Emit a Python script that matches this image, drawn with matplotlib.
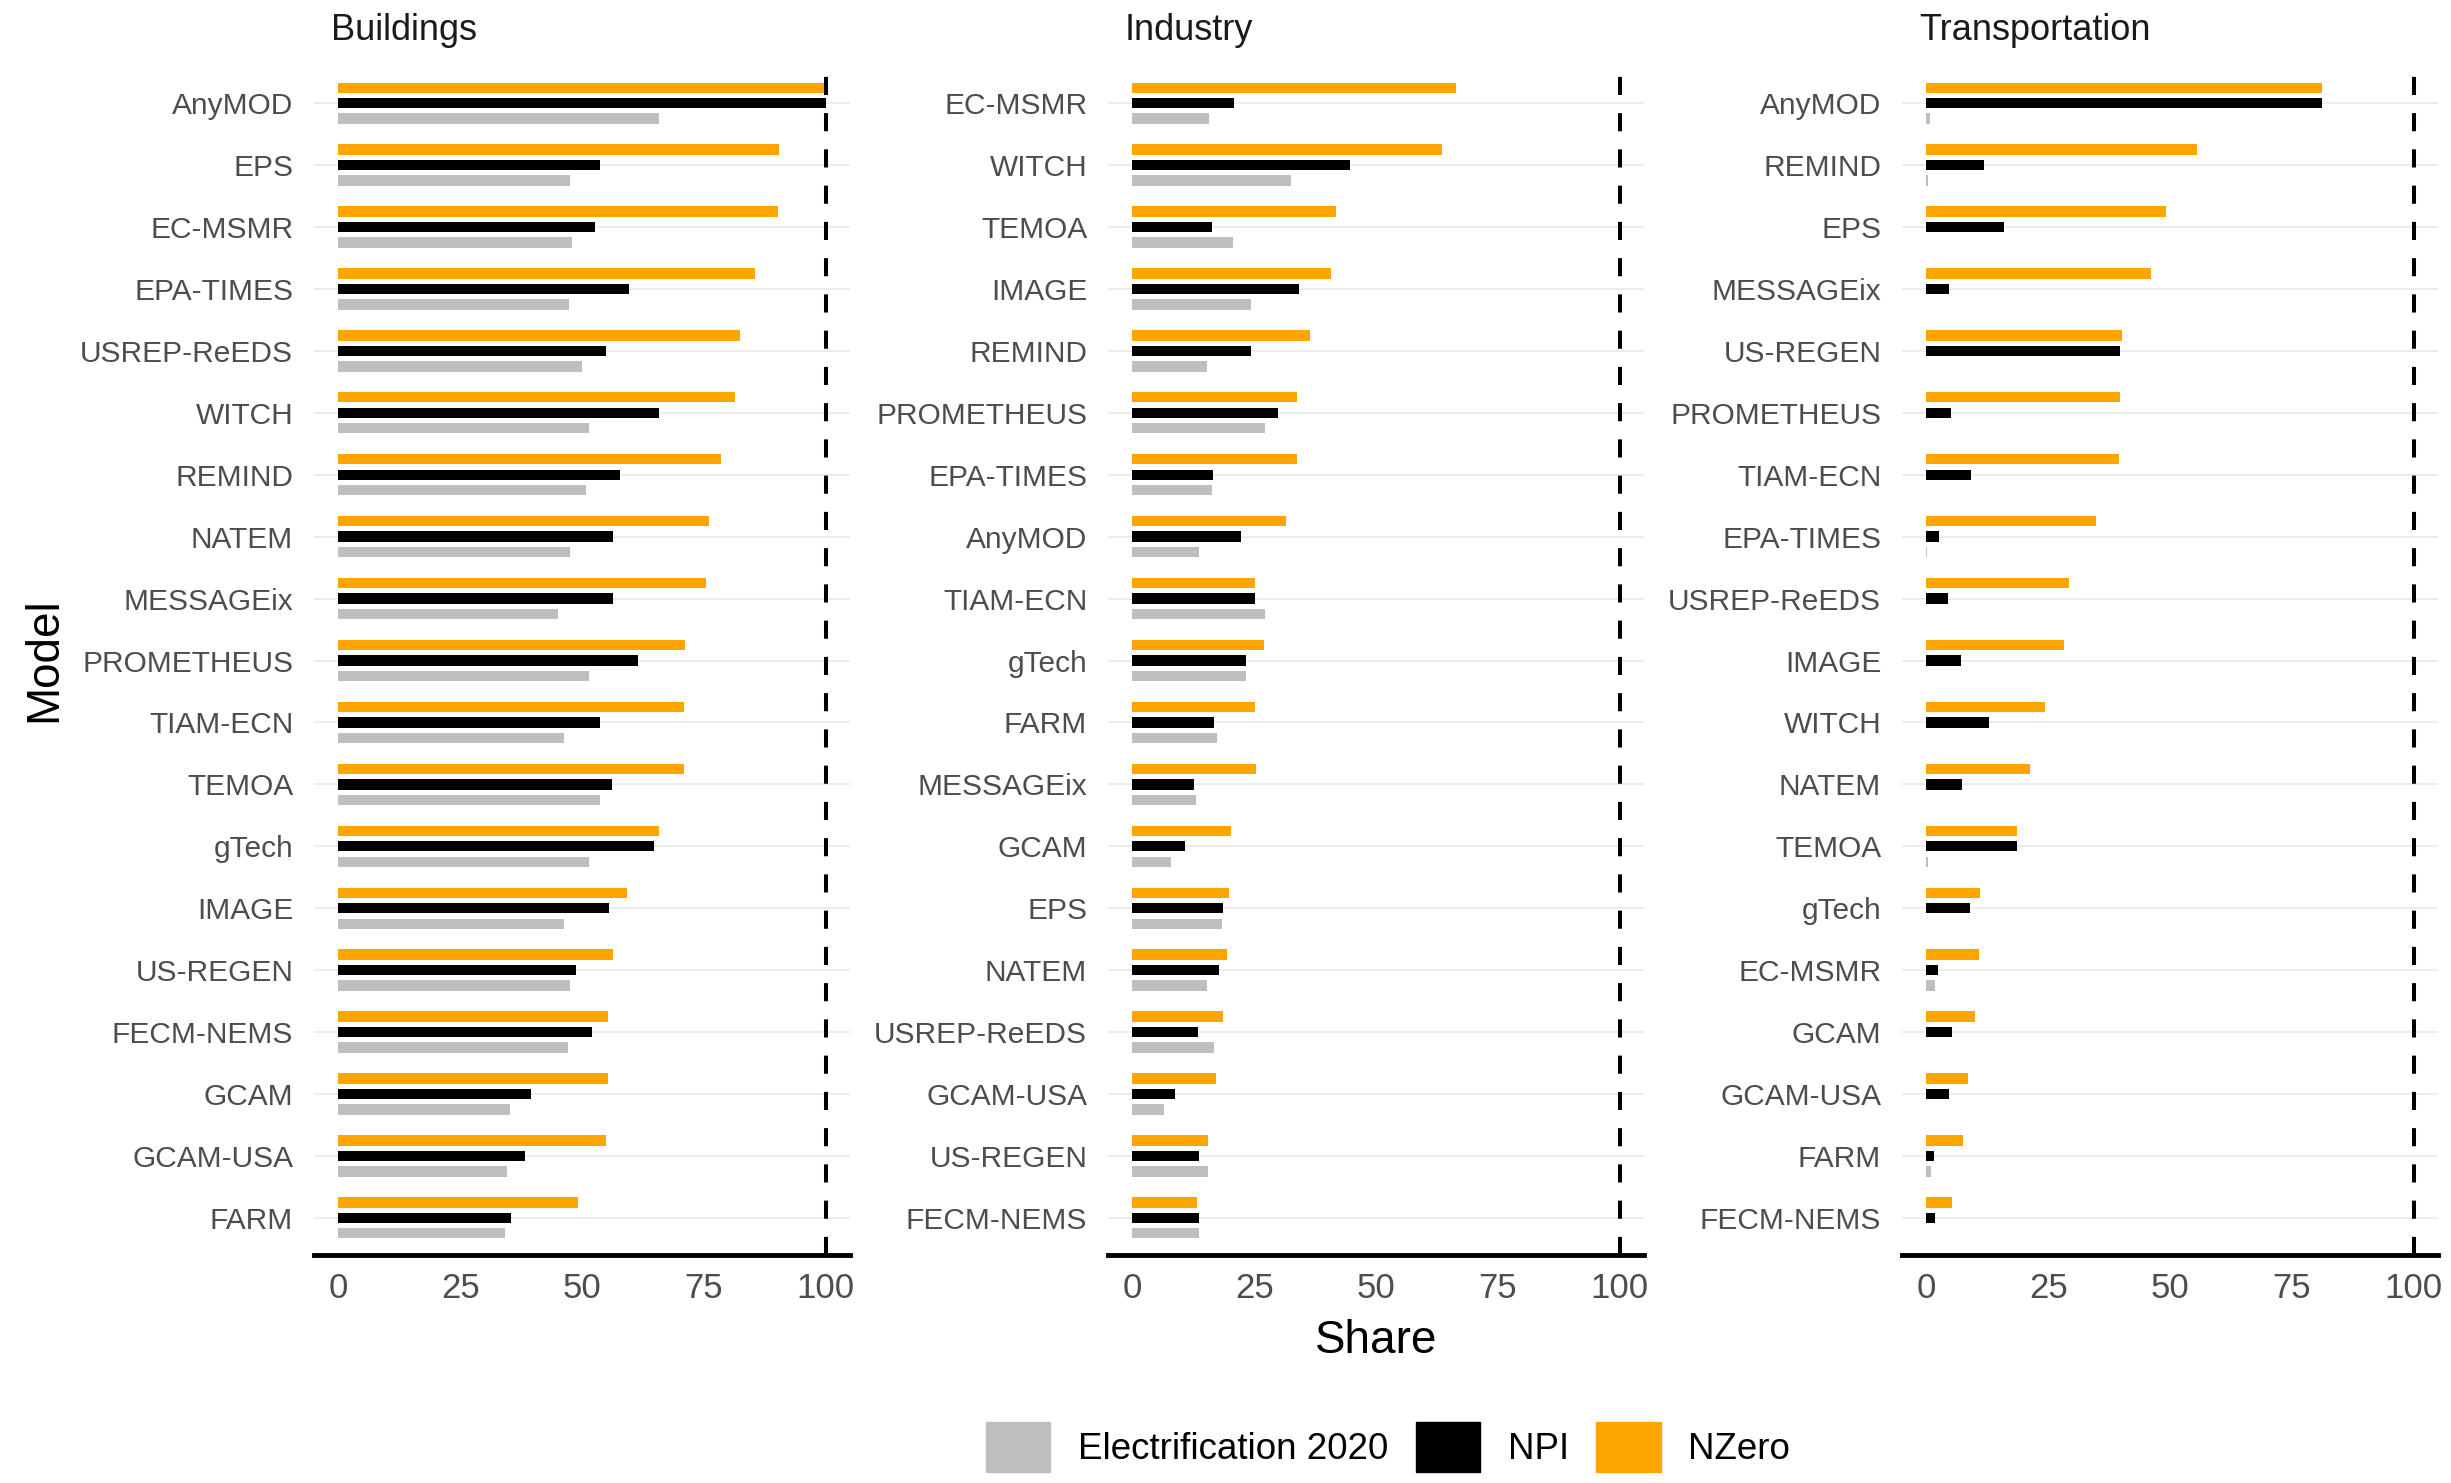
import matplotlib.pyplot as plt
from matplotlib.patches import Patch
import numpy as np

plt.rcParams['font.family'] = ['Liberation Sans', 'DejaVu Sans']

# Buildings
build_models = ["AnyMOD", "EPS", "EC-MSMR", "EPA-TIMES", "USREP-ReEDS", "WITCH", "REMIND",
                "NATEM", "MESSAGEix", "PROMETHEUS", "TIAM-ECN", "TEMOA", "gTech", "IMAGE",
                "US-REGEN", "FECM-NEMS", "GCAM", "GCAM-USA", "FARM"]
build_nzero = [100, 90.5, 90.3, 85.6, 82.5, 81.3, 78.6, 76.1, 75.5, 71.1, 71, 71, 65.7, 59.2,
               56.4, 55.3, 55.3, 55, 49.2]
build_npi = [100, 53.6, 52.6, 59.6, 55, 65.9, 57.8, 56.4, 56.4, 61.4, 53.7, 56.2, 64.8, 55.6,
             48.7, 52, 39.6, 38.4, 35.5]
build_e2020 = [65.7, 47.6, 47.9, 47.3, 50.1, 51.4, 50.8, 47.6, 45.1, 51.4, 46.4, 53.7, 51.4,
               46.4, 47.6, 47.2, 35.2, 34.6, 34.2]

# Industry
ind_models = ["EC-MSMR", "WITCH", "TEMOA", "IMAGE", "REMIND", "PROMETHEUS", "EPA-TIMES",
              "AnyMOD", "TIAM-ECN", "gTech", "FARM", "MESSAGEix", "GCAM", "EPS", "NATEM",
              "USREP-ReEDS", "GCAM-USA", "US-REGEN", "FECM-NEMS"]
ind_nzero = [66.5, 63.5, 41.7, 40.8, 36.4, 33.8, 33.8, 31.5, 25.2, 27, 25.1, 25.4, 20.2, 19.9,
             19.4, 18.6, 17.2, 15.5, 13.2]
ind_npi = [20.9, 44.6, 16.3, 34.3, 24.4, 29.8, 16.6, 22.3, 25.1, 23.4, 16.8, 12.7, 10.8, 18.6,
           17.7, 13.4, 8.8, 13.7, 13.7]
ind_e2020 = [15.8, 32.5, 20.7, 24.4, 15.3, 27.3, 16.3, 13.7, 27.2, 23.4, 17.3, 13.1, 8, 18.3,
             15.3, 16.8, 6.4, 15.5, 13.7]

# Transportation
trans_models = ["AnyMOD", "REMIND", "EPS", "MESSAGEix", "US-REGEN", "PROMETHEUS", "TIAM-ECN",
                "EPA-TIMES", "USREP-ReEDS", "IMAGE", "WITCH", "NATEM", "TEMOA", "gTech",
                "EC-MSMR", "GCAM", "GCAM-USA", "FARM", "FECM-NEMS"]
trans_nzero = [81.2, 55.5, 49.2, 46.1, 40.2, 39.8, 39.5, 34.8, 29.3, 28.3, 24.3, 21.2, 18.5,
               11, 10.9, 9.9, 8.6, 7.5, 5.2]
trans_npi = [81.2, 11.9, 15.9, 4.6, 39.7, 5.1, 9.1, 2.5, 4.4, 7.1, 12.8, 7.3, 18.5, 9, 2.3,
             5.3, 4.6, 1.5, 1.7]
trans_e2020 = [0.7, 0.4, 0, 0, 0, 0, 0, 0.2, 0, 0, 0, 0, 0.3, 0, 1.8, 0, 0, 1, 0]

panels = [
    ("Buildings", build_models, build_nzero, build_npi, build_e2020),
    ("Industry", ind_models, ind_nzero, ind_npi, ind_e2020),
    ("Transportation", trans_models, trans_nzero, trans_npi, trans_e2020),
]

col_e2020 = "#bebebe"
col_npi = "#000000"
col_nzero = "#ffa500"

W, H = 2451, 1483
fig = plt.figure(figsize=(W / 100, H / 100), dpi=100)

lefts = [314, 1108, 1902]
top_px, bot_px, width_px = 66, 1255, 536

for left, (title, models, nzero, npi, e2020) in zip(lefts, panels):
    ax = fig.add_axes([left / W, 1 - bot_px / H, width_px / W, (bot_px - top_px) / H])
    y = np.arange(len(models))
    h = 0.5 / 3
    ax.barh(y - 0.25, nzero, height=h, color=col_nzero, zorder=2)
    ax.barh(y, npi, height=h, color=col_npi, zorder=2)
    ax.barh(y + 0.25, e2020, height=h, color=col_e2020, zorder=2)
    ax.axvline(100, color="black", lw=2.9, linestyle=(0, (4.5, 4.5)), zorder=3)

    ax.set_xlim(-5, 105)
    ax.set_ylim(len(models) - 0.4, -0.6)
    ax.set_yticks(y)
    ax.set_yticklabels(models)
    ax.set_xticks([0, 25, 50, 75, 100])
    ax.tick_params(axis="y", length=0, pad=15, labelsize=21.5, labelcolor="#4d4d4d")
    ax.tick_params(axis="x", length=0, pad=12, labelsize=25, labelcolor="#4d4d4d")
    ax.yaxis.grid(True, color="#ebebeb", lw=1.3)
    ax.set_axisbelow(True)
    for s in ["top", "right", "left"]:
        ax.spines[s].set_visible(False)
    ax.spines["bottom"].set_linewidth(3.5)
    ax.spines["bottom"].set_color("black")

    fig.text((left + 17) / W, 1 - 31 / H, title, fontsize=26, color="#1a1a1a",
             ha="left", va="center")

fig.text(1376 / W, 1 - 1341 / H, "Share", fontsize=33, ha="center", va="center")
fig.text(44 / W, 1 - 660 / H, "Model", fontsize=33, ha="center", va="center", rotation=90)

handles = [Patch(color=col_e2020, label="Electrification 2020"),
           Patch(color=col_npi, label="NPI"),
           Patch(color=col_nzero, label="NZero")]
fig.legend(handles=handles, loc="center", bbox_to_anchor=(1388 / W, 1 - 1447 / H), ncol=3,
           frameon=False, fontsize=26.5, handlelength=1.75, handleheight=1.75,
           handletextpad=0.75, columnspacing=0.75)

fig.savefig("out.png", dpi=100, facecolor="white")
